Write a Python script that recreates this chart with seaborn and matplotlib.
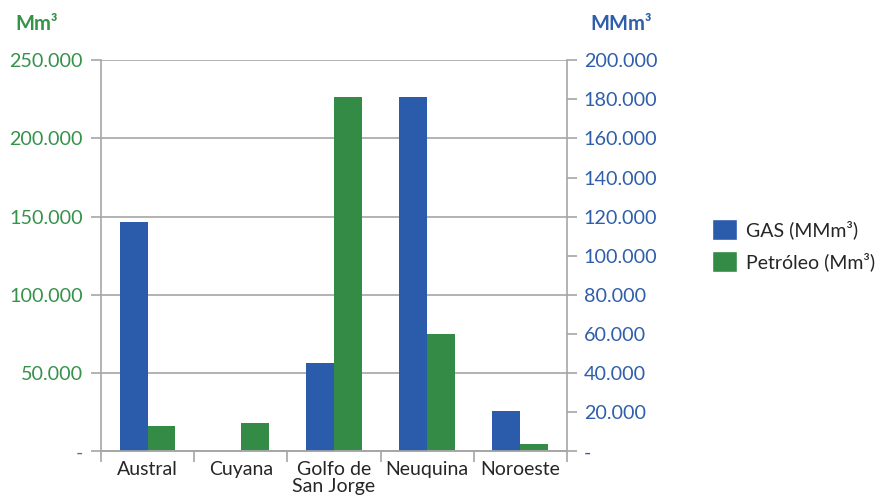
import pandas as pd
import matplotlib
matplotlib.use("Agg")
import matplotlib.pyplot as plt
import matplotlib.ticker as mticker
from matplotlib.patches import Patch
import seaborn as sns

# datos por cuenca
cuencas = ["Austral", "Cuyana", "Golfo de\nSan Jorge", "Neuquina", "Noroeste"]
gas = [117200, 0, 45200, 181100, 20700]          # MMm3
petroleo = [16300, 18200, 226400, 75000, 4800]   # Mm3
series = ["GAS (MMm³)", "Petróleo (Mm³)"]

azul = "#2B5CAB"
verde = "#338B45"
gris = "#A6A6A6"

sns.set_theme(style="white")
plt.rcParams["font.family"] = ["Lato", "DejaVu Sans"]

df_gas = pd.DataFrame({"cuenca": cuencas, "valor": gas, "serie": series[0]})
df_pet = pd.DataFrame({"cuenca": cuencas, "valor": petroleo, "serie": series[1]})
paleta = dict(zip(series, [azul, verde]))

fig = plt.figure(figsize=(8.93, 5.01), dpi=100)
ax = fig.add_axes([0.113, 0.099, 0.522, 0.781])
ax2 = ax.twinx()

sns.barplot(data=df_pet, x="cuenca", y="valor", hue="serie", hue_order=series,
            order=cuencas, palette=paleta, width=0.6, dodge=True, errorbar=None,
            saturation=1, legend=False, linewidth=0, ax=ax)
sns.barplot(data=df_gas, x="cuenca", y="valor", hue="serie", hue_order=series,
            order=cuencas, palette=paleta, width=0.6, dodge=True, errorbar=None,
            saturation=1, legend=False, linewidth=0, ax=ax2)

ax.set_ylim(0, 250000)
ax2.set_ylim(0, 200000)
ax.set_xlim(-0.5, len(cuencas) - 0.5)
ax.yaxis.set_major_locator(mticker.MultipleLocator(50000))
ax2.yaxis.set_major_locator(mticker.MultipleLocator(20000))


def miles(v, pos):
    if v == 0:
        return "-"
    return f"{v:,.0f}".replace(",", ".")


ax.yaxis.set_major_formatter(mticker.FuncFormatter(miles))
ax2.yaxis.set_major_formatter(mticker.FuncFormatter(miles))

ax.set_axisbelow(True)
ax.yaxis.grid(True, color=gris, lw=1.2)
ax2.grid(False)
for a in (ax, ax2):
    a.set_xlabel("")
    a.set_ylabel("")
    a.spines["top"].set_visible(False)
    for s in ("left", "right", "bottom"):
        a.spines[s].set_color(gris)
        a.spines[s].set_linewidth(1.2)
ax.spines["right"].set_visible(False)
ax2.spines["left"].set_visible(False)

ax.tick_params(axis="y", which="major", left=True, direction="out", length=7,
               width=1.2, color=gris, labelcolor="#35924A", labelsize=14.2, pad=6)
ax2.tick_params(axis="y", which="major", right=True, direction="out", length=7,
                width=1.2, color=gris, labelcolor="#2F5EAA", labelsize=14.2, pad=5)

# marcas entre categorias, como en Excel
ax.set_xticks([i - 0.5 for i in range(len(cuencas) + 1)], minor=True)
ax.tick_params(axis="x", which="minor", bottom=True, direction="out", length=8,
               width=1.2, color=gris)
ax.tick_params(axis="x", which="major", length=0, labelsize=14, labelcolor="#262626", pad=7)
ax.set_xticks(range(len(cuencas)))
ax.set_xticklabels(cuencas, linespacing=1.0)

fig.text(15 / 893, 1 - 24 / 501, "Mm³", color="#35924A", fontsize=14.5,
         fontweight="bold", va="center", ha="left")
fig.text(590 / 893, 1 - 24 / 501, "MMm³", color="#2F5EAA", fontsize=14.5,
         fontweight="bold", va="center", ha="left")

handles = [Patch(facecolor=azul), Patch(facecolor=verde)]
fig.legend(handles=handles, labels=series, loc="center left",
           bbox_to_anchor=(0.778, 0.51), frameon=False, fontsize=14,
           handlelength=1.25, handleheight=1.25, labelspacing=0.6,
           handletextpad=0.5, labelcolor="#262626")

fig.savefig("out.png", dpi=100)
